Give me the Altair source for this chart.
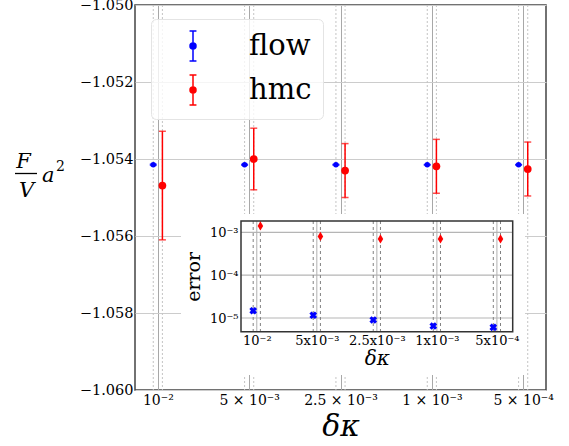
import json
import altair as alt
import pandas as pd

# ---------------- data ----------------
kappa_labels = ["10⁻²", "5 × 10⁻³", "2.5 × 10⁻³", "1 × 10⁻³", "5 × 10⁻⁴"]
kappa_labels_inset = ["10⁻²", "5x10⁻³", "2.5x10⁻³", "1x10⁻³", "5x10⁻⁴"]
series_names = ["flow", "hmc"]
series_colors = ["#0000ff", "#ff0000"]

flow_value = [-1.05415, -1.05415, -1.05415, -1.05415, -1.05415]
flow_error = [1.48e-5, 1.16e-5, 9.0e-6, 6.5e-6, 6.07e-6]
hmc_value = [-1.05469, -1.05400, -1.05430, -1.05419, -1.05426]
hmc_error = [1.41e-3, 8.0e-4, 7.0e-4, 7.0e-4, 7.0e-4]

main_ticks = [-1.060, -1.058, -1.056, -1.054, -1.052, -1.050]
inset_ticks = [1e-5, 1e-4, 1e-3]
inset_tick_labels = ["10⁻⁵", "10⁻⁴", "10⁻³"]

rows = []
for i in range(len(kappa_labels)):
    rows.append(dict(i=i, series="flow", value=flow_value[i], err=flow_error[i]))
    rows.append(dict(i=i, series="hmc", value=hmc_value[i], err=hmc_error[i]))
df = pd.DataFrame(rows)
positions = pd.DataFrame({"c": list(range(len(kappa_labels)))})
one = pd.DataFrame({"a": [0]})

# ---------------- layout ----------------
W, H = 411, 385
SERIF = "DejaVu Serif"
IN_L, IN_R, IN_T, IN_B = 106, 377.7, 216, 326.7

x_main = alt.Scale(domain=[-0.25, 4.25], nice=False, zero=False)
y_main = alt.Scale(domain=[-1.060, -1.050], nice=False, zero=False)
col_scale = alt.Scale(domain=series_names, range=series_colors)

x_axis_main = alt.Axis(
    orient="bottom", values=list(range(len(kappa_labels))),
    labelExpr=json.dumps(kappa_labels, ensure_ascii=False) + "[datum.value]",
    grid=True, gridColor="#a8a8a8", gridWidth=1, ticks=False, domain=False,
    labelFont=SERIF, labelFontSize=14, labelColor="black", labelPadding=3,
    labelFlush=False, labelOverlap=False,
    title="δκ", titleFont=SERIF, titleFontSize=30, titleFontStyle="italic",
    titleFontWeight="normal", titleColor="black", titlePadding=4,
)
y_axis_main = alt.Axis(
    orient="left", values=main_ticks, format=".3f",
    grid=True, gridColor="#cccccc", gridWidth=1, ticks=False, domain=False,
    labelFont=SERIF, labelFontSize=14.5, labelColor="black", labelPadding=2,
    labelOverlap=False, title=None,
)

# error-bar legend glyph: caps, bar and a dot made of concentric rings
EB_PATH = ("M-0.23,-1H0.23M0,-1V1M-0.23,1H0.23"
           "M0.2,0A0.2,0.2,0,1,1,-0.2,0A0.2,0.2,0,1,1,0.2,0"
           "M0.13,0A0.13,0.13,0,1,1,-0.13,0A0.13,0.13,0,1,1,0.13,0"
           "M0.06,0A0.06,0.06,0,1,1,-0.06,0A0.06,0.06,0,1,1,0.06,0")
legend = alt.Legend(
    title=None, orient="none", legendX=16, legendY=14,
    symbolType=EB_PATH, symbolSize=900, symbolStrokeWidth=1.5,
    labelFont=SERIF, labelFontSize=29, labelColor="black",
    labelOffset=40, symbolOffset=15, rowPadding=8, padding=11,
    cornerRadius=5, strokeColor="#e4e4e4", fillColor="rgba(255,255,255,0.8)",
)

base = alt.Chart(df).transform_calculate(
    xm="datum.i + (datum.series == 'flow' ? -0.05 : 0.05)",
    lo="datum.value - datum.err",
    hi="datum.value + datum.err",
)
X = alt.X("xm:Q", scale=x_main, axis=x_axis_main)

dotted = base.mark_rule(color="#c4c4c4", strokeDash=[2, 2], strokeWidth=1).encode(
    x=X, y=alt.value(0), y2=alt.value(H))
err_rule = base.mark_rule(strokeWidth=1.5).encode(
    x=X, y=alt.Y("lo:Q", scale=y_main, axis=y_axis_main), y2="hi:Q",
    color=alt.Color("series:N", scale=col_scale, legend=legend))
cap_lo = base.mark_tick(orient="horizontal", size=7, thickness=1.5).encode(
    x=X, y=alt.Y("lo:Q", scale=y_main, axis=y_axis_main),
    color=alt.Color("series:N", scale=col_scale, legend=None))
cap_hi = base.mark_tick(orient="horizontal", size=7, thickness=1.5).encode(
    x=X, y=alt.Y("hi:Q", scale=y_main, axis=y_axis_main),
    color=alt.Color("series:N", scale=col_scale, legend=None))
pts_flow = base.transform_filter("datum.series == 'flow'").mark_point(
    filled=True, opacity=1, strokeWidth=0, size=30, color=series_colors[0]).encode(
    x=X, y=alt.Y("value:Q", scale=y_main, axis=y_axis_main))
pts_hmc = base.transform_filter("datum.series == 'hmc'").mark_point(
    filled=True, opacity=1, strokeWidth=0, size=60, color=series_colors[1]).encode(
    x=X, y=alt.Y("value:Q", scale=y_main, axis=y_axis_main))

# y-axis title  F/V a^2 built from text marks
tb = alt.Chart(one)
t_F = tb.mark_text(text="F", font=SERIF, fontSize=21, fontStyle="italic", align="center",
                   baseline="alphabetic", color="black").encode(x=alt.value(-111.5), y=alt.value(163))
t_bar = tb.mark_rule(color="black", strokeWidth=1.3).encode(
    x=alt.value(-120), x2=alt.value(-98), y=alt.value(168.5))
t_V = tb.mark_text(text="V", font=SERIF, fontSize=21, fontStyle="italic", align="center",
                   baseline="alphabetic", color="black").encode(x=alt.value(-108.5), y=alt.value(192))
t_a = tb.mark_text(text="a", font=SERIF, fontSize=21, fontStyle="italic", align="left",
                   baseline="alphabetic", color="black").encode(x=alt.value(-93), y=alt.value(177))
t_2 = tb.mark_text(text="2", font=SERIF, fontSize=14, align="left",
                   baseline="alphabetic", color="black").encode(x=alt.value(-79), y=alt.value(166))

main = alt.layer(dotted, err_rule, cap_lo, cap_hi, pts_flow, pts_hmc, t_F, t_bar, t_V, t_a, t_2)

# ---------------- inset ----------------
x_in = alt.Scale(domain=[-0.263, 4.263], range=[IN_L, IN_R], nice=False, zero=False)
y_in = alt.Scale(type="log", domain=[4.79e-6, 1.837e-3], range=[IN_B, IN_T], nice=False)

x_axis_in = alt.Axis(
    orient="bottom", offset=-(H - IN_B), values=list(range(len(kappa_labels))),
    labelExpr=json.dumps(kappa_labels_inset, ensure_ascii=False) + "[datum.value]",
    grid=False, ticks=False, domain=False, labelFont=SERIF, labelFontSize=13,
    labelColor="black", labelPadding=3, labelFlush=False, labelOverlap=False,
    title="δκ", titleFont=SERIF, titleFontSize=20, titleFontStyle="italic",
    titleFontWeight="normal", titleColor="black", titlePadding=1, zindex=1,
)
y_axis_in = alt.Axis(
    orient="left", offset=-IN_L, values=inset_ticks,
    labelExpr=json.dumps(inset_tick_labels, ensure_ascii=False) + "[round(log(datum.value)/LN10)+5]",
    grid=False, ticks=False, domain=False, labelFont=SERIF, labelFontSize=13,
    labelColor="black", labelPadding=3, labelFlush=False, labelOverlap=False,
    title="error", titleFont=SERIF, titleFontSize=19, titleFontWeight="normal",
    titleColor="black", titlePadding=6, zindex=1,
)

in_base = alt.Chart(df).transform_calculate(
    xi="datum.i + (datum.series == 'flow' ? -0.06 : 0.06)")
XI = alt.X("xi:Q", scale=x_in, axis=x_axis_in)

bg = alt.Chart(one).mark_rect(fill="white").encode(
    x=alt.value(46), x2=alt.value(390), y=alt.value(209), y2=alt.value(370))
hgrid = alt.Chart(pd.DataFrame({"t": inset_ticks})).mark_rule(color="#b5b5b5", strokeWidth=1.2).encode(
    y=alt.Y("t:Q", scale=y_in, axis=y_axis_in), x=alt.value(IN_L), x2=alt.value(IN_R))
vgrid = alt.Chart(positions).mark_rule(color="#b0b0b0", strokeWidth=1).encode(
    x=alt.X("c:Q", scale=x_in, axis=x_axis_in), y=alt.value(IN_T), y2=alt.value(IN_B))
dashed = in_base.mark_rule(color="#808080", strokeDash=[3, 3], strokeWidth=1).encode(
    x=XI, y=alt.value(IN_T), y2=alt.value(IN_B))
frame = alt.Chart(one).mark_rect(fill="transparent", stroke="#333333", strokeWidth=1.5).encode(
    x=alt.value(IN_L), x2=alt.value(IN_R), y=alt.value(IN_T), y2=alt.value(IN_B))
blue_in = in_base.transform_filter("datum.series == 'flow'").mark_point(
    shape="cross", angle=45, filled=True, size=60, color=series_colors[0], opacity=1).encode(
    x=XI, y=alt.Y("err:Q", scale=y_in, axis=y_axis_in))
red_in = in_base.transform_filter("datum.series == 'hmc'").mark_point(
    shape="M0,-1L0.6,0L0,1L-0.6,0Z", filled=True, size=85, color=series_colors[1], opacity=1).encode(
    x=XI, y=alt.Y("err:Q", scale=y_in, axis=y_axis_in))

inset = alt.layer(bg, hgrid, vgrid, dashed, frame, blue_in, red_in)

chart = alt.layer(main, inset).resolve_scale(x="independent", y="independent").properties(
    width=W, height=H,
    padding={"left": 135, "top": 5, "right": 23, "bottom": 56},
    autosize=alt.AutoSizeParams(type="none"),
).configure(background="white").configure_view(stroke="#444444", strokeWidth=1.5)

chart.save("out.html", embed_options={"renderer": "svg", "actions": False})
